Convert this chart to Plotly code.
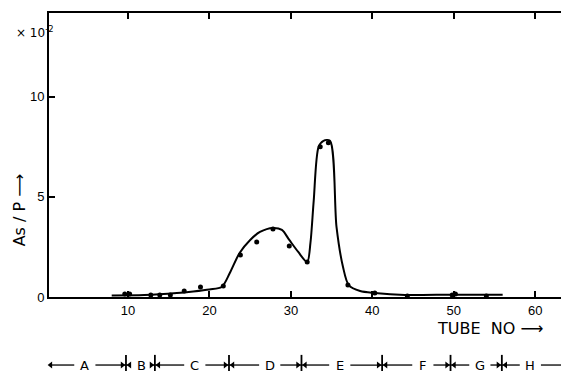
import plotly.graph_objects as go

# measured points (tube no, As/P x 10^-2)
point_tube = [9.6, 10.2, 12.8, 13.9, 15.2, 16.9, 18.9, 21.7, 23.8, 25.8, 27.8, 29.8,
              32.0, 33.6, 34.6, 37.0, 40.3, 44.3, 49.8, 50.2, 54.0]
point_val = [0.15, 0.15, 0.1, 0.1, 0.1, 0.3, 0.5, 0.55, 2.1, 2.75, 3.4, 2.55,
             1.75, 7.5, 7.7, 0.6, 0.2, 0.05, 0.1, 0.15, 0.05]

# hand-drawn smooth curve
curve_tube = [8, 12, 16, 18, 20, 21.5, 22.5, 23.7, 25.0, 26.2, 27.8, 28.9, 29.8, 30.9,
              32.0, 32.4, 32.8, 33.4, 34.0, 34.8, 35.6, 36.4, 37.1, 38.5, 40.3, 44, 50, 56]
curve_val = [0.08, 0.1, 0.2, 0.28, 0.38, 0.5, 1.2, 2.2, 2.85, 3.25, 3.45, 3.35, 2.85, 2.25,
             1.75, 2.7, 4.8, 7.5, 7.8, 7.8, 3.5, 1.5, 0.6, 0.3, 0.2, 0.1, 0.12, 0.12]

# fraction bar below the axis
frac_bounds = [0.05, 9.75, 13.3, 22.4, 31.3, 41.2, 49.6, 55.9, 63.8]
frac_labels = ["A", "B", "C", "D", "E", "F", "G", "H"]
frac_label_pos = [4.7, 11.6, 18.2, 27.4, 36.0, 46.2, 53.2, 59.4]

x_ticks = [10, 20, 30, 40, 50, 60]
y_ticks = [0, 5, 10]

FONT = "DejaVu Sans"

fig = go.Figure()
fig.add_trace(go.Scatter(x=curve_tube, y=curve_val, mode="lines",
                         line=dict(color="black", width=2, shape="spline", smoothing=0.8),
                         cliponaxis=False, hoverinfo="skip"))
fig.add_trace(go.Scatter(x=point_tube, y=point_val, mode="markers",
                         marker=dict(color="black", size=5), cliponaxis=False))

annotations = []
# fraction segments: line from label to each boundary with an arrowhead at the boundary
for i, lab in enumerate(frac_labels):
    a, b = frac_bounds[i], frac_bounds[i + 1]
    m = frac_label_pos[i]
    gap = 1.3
    left_end = max(a + 0.5, m - gap)
    right_start = min(b - 0.5, m + gap)
    fig.add_trace(go.Scatter(x=[left_end, a], y=[0, 0], xaxis="x", yaxis="y2",
                             mode="lines", line=dict(color="black", width=1.3),
                             cliponaxis=False, hoverinfo="skip"))
    fig.add_trace(go.Scatter(x=[right_start, b], y=[0, 0], xaxis="x", yaxis="y2",
                             mode="lines", line=dict(color="black", width=1.3),
                             cliponaxis=False, hoverinfo="skip"))
    fig.add_trace(go.Scatter(x=[a + 0.45, b - 0.45], y=[0, 0], xaxis="x", yaxis="y2",
                             mode="markers",
                             marker=dict(symbol=["triangle-left", "triangle-right"],
                                         size=6, color="black"),
                             cliponaxis=False, hoverinfo="skip"))
    annotations.append(dict(x=m, y=0, xref="x", yref="y2", text=lab, showarrow=False,
                            xanchor="center", yanchor="middle",
                            font=dict(family=FONT, size=13, color="black")))
for bnd in frac_bounds:
    fig.add_trace(go.Scatter(x=[bnd, bnd], y=[1.7, -1.0], xaxis="x", yaxis="y2",
                             mode="lines", line=dict(color="black", width=1.8),
                             cliponaxis=False, hoverinfo="skip"))

annotations += [
    dict(xref="paper", yref="paper", x=-0.057, y=0.45, text="As / P ⟶", textangle=-90,
         xanchor="center", yanchor="middle",
         showarrow=False, font=dict(family=FONT, size=16, color="black")),
    dict(xref="paper", yref="paper", x=-0.027, y=0.946, text="× 10<sup>-2</sup>",
         xanchor="center", yanchor="middle",
         showarrow=False, font=dict(family=FONT, size=12, color="black")),
    dict(xref="paper", yref="paper", x=0.851, y=0.12, text="TUBE  NO ⟶",
         xanchor="center", yanchor="middle",
         showarrow=False, font=dict(family=FONT, size=16, color="black")),
]

fig.update_layout(
    width=561, height=371,
    margin=dict(l=41, r=2, t=5, b=0),
    paper_bgcolor="white", plot_bgcolor="white",
    showlegend=False,
    annotations=annotations,
    xaxis=dict(range=[0.3, 63.9], tickvals=x_ticks, ticks="inside", ticklen=6, tickwidth=1.5,
               tickcolor="black", showline=True, linecolor="black", linewidth=2,
               mirror="ticks", showgrid=False, zeroline=False, anchor="y",
               tickfont=dict(family="Liberation Sans", size=13, color="black")),
    yaxis=dict(domain=[0.2066, 1], range=[0, 14.18], tickvals=y_ticks, ticks="inside",
               ticklen=6, tickwidth=1.5, tickcolor="black", showline=True, linecolor="black",
               linewidth=2, mirror=True, showgrid=False, zeroline=False,
               tickfont=dict(family="Liberation Sans", size=13, color="black")),
    yaxis2=dict(domain=[0, 0.12], range=[-1, 6.2], visible=False, anchor="x",
                showgrid=False, zeroline=False),
)

fig.write_html("out.html")
